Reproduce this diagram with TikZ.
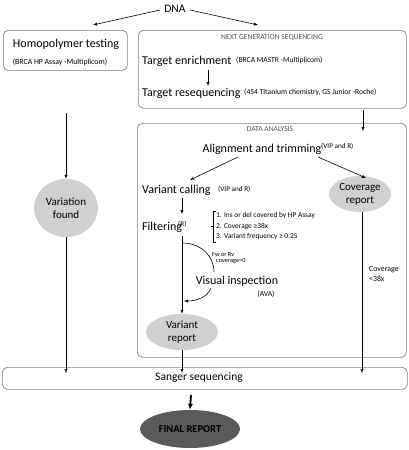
\documentclass[tikz,border=0pt]{standalone}
\usepackage{fontspec}
\setmainfont{Carlito}
\usetikzlibrary{arrows.meta,shapes.geometric,calc}
\definecolor{boxline}{HTML}{808080}
\definecolor{blobfill}{HTML}{D0D0D0}
\definecolor{finalfill}{HTML}{5A5A5A}
\definecolor{titlegray}{HTML}{505050}
\begin{document}
\begin{tikzpicture}[x=1pt,y=-1pt,
  box/.style={draw=boxline, rounded corners=5pt, line width=0.7pt, anchor=north west, inner sep=0pt},
  main/.style={font=\fontsize{12}{13}\selectfont, inner sep=0pt},
  small/.style={font=\fontsize{7.6}{8.5}\selectfont, inner sep=0pt},
  sup/.style={font=\fontsize{7.2}{8}\selectfont, inner sep=0pt},
  list/.style={font=\fontsize{7.4}{8}\selectfont, inner sep=0pt, anchor=west},
  tiny/.style={font=\fontsize{6.3}{7}\selectfont, inner sep=0pt, align=left},
  title/.style={font=\fontsize{7.6}{8.5}\selectfont, text=titlegray, inner sep=0pt},
  blob/.style={ellipse, fill=blobfill, inner sep=0pt, align=center, font=\fontsize{11}{13}\selectfont},
  arr/.style={-{Latex[length=4pt,width=3.2pt]}, line width=0.6pt},
  ln/.style={line width=0.6pt}]
\useasboundingbox (0,0) rectangle (409,450);

% boxes
\node[box, minimum width=124pt, minimum height=40pt] (hp) at (3,30) {};
\node[box, minimum width=268pt, minimum height=78pt] (ngs) at (138,30) {};
\node[box, minimum width=269pt, minimum height=234pt] (da) at (137,123) {};
\node[box, minimum width=405pt, minimum height=22pt] (sg) at (2,367) {};

% top
\node[font=\fontsize{11.5}{12}\selectfont, inner sep=0pt] (dna) at (175,9) {DNA};
\coordinate (dnaL) at (160,10);
\coordinate (dnaR) at (190,10);
\coordinate (hpIn) at (93,25);
\coordinate (ngsIn) at (258,25);
\draw[arr] (dnaL) -- (hpIn);
\draw[arr] (dnaR) -- (ngsIn);

% homopolymer
\node[main] (hpt) at (66,44) {Homopolymer testing};
\node[font=\fontsize{7.8}{9}\selectfont, inner sep=0pt] (hps) at (60,62) {(BRCA HP Assay -Multiplicom)};

% NGS
\node[title] (ngst) at (272,38) {NEXT GENERATION SEQUENCING};
\node[main, anchor=west] (te) at (142,61) {Target enrichment};
\node[small, anchor=west] (tes) at (236,60) {(BRCA MASTR -Multiplicom)};
\node[main, anchor=west] (tr) at (142,93) {Target resequencing};
\node[small, anchor=west] (trs) at (244,92) {(454 Titanium chemistry, GS Junior -Roche)};
\coordinate (teOut) at (208,70);
\coordinate (trIn) at (208,86);
\draw[arr] (teOut) -- (trIn);

% NGS -> DA
\coordinate (ngsOut) at (363,110);
\coordinate (daIn) at (363,131);
\draw[arr] (ngsOut) -- (daIn);

% DA
\node[title] (dat) at (270,129) {DATA ANALYSIS};
\node[main] (al) at (262,149) {Alignment and trimming};
\node[sup, anchor=west] (als) at (321,146) {(VIP and R)};
\node[main, anchor=west] (vc) at (142,190) {Variant calling};
\node[sup, anchor=west] (vcs) at (218,189) {(VIP and R)};
\node[blob, minimum width=62pt, minimum height=36pt] (cov) at (360,194) {Coverage\\report};
\coordinate (alL) at (238,157);
\coordinate (alR) at (318,157);
\coordinate (vcIn) at (190,180);
\coordinate (covIn) at (366,178);
\draw[arr] (alL) -- (vcIn);
\draw[arr] (alR) -- (covIn);

\coordinate (vcOut) at (182,198);
\coordinate (fiIn) at (182,214);
\draw[arr] (vcOut) -- (fiIn);
\node[main, anchor=west] (fi) at (142,227) {Filtering};
\node[sup, anchor=west] (fis) at (178,224) {(R)};
\draw[ln] (216,211) -- (213,211) -- (213,242) -- (216,242);
\draw[ln] (213,226.5) -- (211,226.5);
\node[list] (f1) at (216,216) {1. Ins or del covered by HP Assay};
\node[list] (f2) at (216,226.5) {2. Coverage ≥38x};
\node[list] (f3) at (216,237) {3. Variant frequency ≥ 0.25};

\node[blob, minimum width=72pt, minimum height=36pt] (vr) at (182,332) {Variant\\report};
\coordinate (fiOut) at (182,236);
\draw[arr] (fiOut) -- (vr.north);

\coordinate (arcA) at (182,243);
\coordinate (viIn) at (214,272);
\draw[ln] (arcA) .. controls (201,243) and (214,256) .. (viIn);
\node[tiny, anchor=west] (fw) at (212,254) {Fw or Rv};
\node[tiny, anchor=west] (fw2) at (216,261) {coverage=0};
\node[main] (vi) at (237,281) {Visual inspection};
\node[small] (vis) at (266,294) {(AVA)};
\coordinate (viOut) at (211,288);
\coordinate (lineIn) at (184,301);
\draw[arr] (viOut) .. controls (208,296) and (198,301) .. (lineIn);

\coordinate (sgA) at (182,373);
\draw[arr] (vr.south) -- (sgA);

% coverage
\coordinate (sgC) at (362,373);
\draw[arr] (cov.south -| sgC) -- (sgC);
\node[font=\fontsize{7.8}{10}\selectfont, inner sep=0pt, anchor=north west, align=left] (cl) at (369,266) {Coverage\\<38x};

% left column
\coordinate (hpOut) at (66,113);
\node[blob, minimum width=64pt, minimum height=58pt] (vf) at (66,208) {Variation\\found};
\draw[arr] (hpOut) -- (vf.north);
\coordinate (sgL) at (66,373);
\draw[arr] (vf.south) -- (sgL);

% Sanger
\node[font=\fontsize{11.5}{12}\selectfont, inner sep=0pt] (sgt) at (199,378) {Sanger sequencing};
\node[ellipse, fill=finalfill, minimum width=100pt, minimum height=38pt, inner sep=0pt, font=\bfseries\fontsize{10.5}{12}\selectfont] (fr) at (190,429) {FINAL REPORT};
\coordinate (sgOut) at (191,395);
\draw[-{Latex[length=6pt,width=5pt]}, line width=1.8pt] (sgOut) -- (fr.north);
\end{tikzpicture}
\end{document}
